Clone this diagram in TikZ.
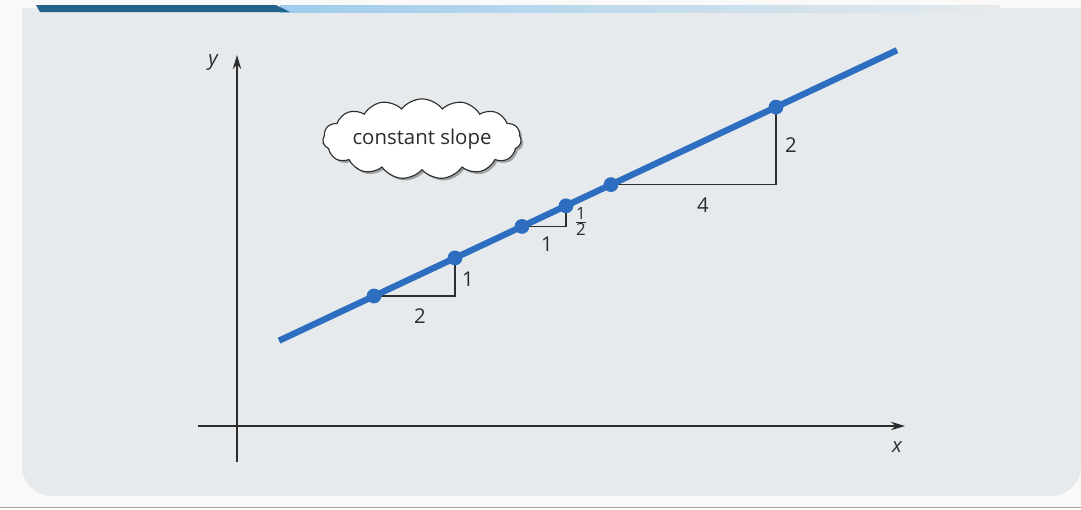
\documentclass[tikz,border=0pt]{standalone}
\usepackage{fontspec}
\setmainfont{Open Sans}
\usetikzlibrary{arrows.meta,shapes.symbols,shadows}
\definecolor{page}{RGB}{249,249,249}
\definecolor{panel}{RGB}{230,234,236}
\definecolor{lineblue}{RGB}{46,110,192}
\definecolor{bardark}{RGB}{36,98,142}
\definecolor{barlight}{RGB}{158,204,236}
\definecolor{ink}{RGB}{45,45,45}
\tikzset{
  axis/.style={draw=ink, line width=0.9pt, -{Stealth[length=10pt,width=6pt]}},
  tri/.style={draw=ink, line width=0.9pt},
  slopeline/.style={draw=lineblue, line width=4.5pt},
  dot/.style={fill=lineblue, circle, inner sep=0pt, minimum size=0.37cm},
  lab/.style={text=ink, font=\fontsize{14.5}{16}\selectfont, inner sep=1pt},
  axlab/.style={text=ink, font=\fontsize{14.5}{16}\selectfont\itshape, inner sep=1pt},
  bubble/.style={cloud, draw=ink, line width=0.8pt, fill=white, cloud puffs=15, cloud puff arc=105, aspect=3.2,
     minimum width=4.75cm, minimum height=1.5cm, inner sep=0pt,
     drop shadow={shadow xshift=1.6pt, shadow yshift=-1.6pt, opacity=0.3, fill=black},
     text=ink, font=\fontsize{14.5}{16}\selectfont}
}
\begin{document}
\begin{tikzpicture}[x=0.025cm,y=-0.025cm]
\useasboundingbox (0,0) rectangle (1081,509);
% page and panel
\fill[page] (0,0) rectangle (1081,509);
\fill[panel] (22,8) -- (1081,8) -- (1081,400) [rounded corners=0.75cm] -- (1081,496) -- (22,496) -- (22,400) [sharp corners] -- cycle;
\draw[gray!70, line width=0.8pt] (0,507.5) -- (1081,507.5);
% top stripe
\shade[left color=barlight, right color=panel] (280,5) rectangle (1000,12);
\fill[bardark] (36,5) -- (276,5) -- (290,12) -- (40,12) -- cycle;
% axes
\coordinate (ybot) at (237,462);
\coordinate (ytop) at (237,55);
\coordinate (xleft) at (198,426);
\coordinate (xright) at (905,426);
\draw[axis] (ybot) -- (ytop);
\draw[axis] (xleft) -- (xright);
\node[axlab] (ylab) at (213,62) {y};
\node[axlab] (xlab) at (897,447) {x};
% points on the line
\coordinate (lstart) at (279,340.7);
\coordinate (lend) at (897,50.2);
\coordinate (p1) at (374,296);
\coordinate (p2) at (455,257.9);
\coordinate (p3) at (522,226.4);
\coordinate (p4) at (566,205.8);
\coordinate (p5) at (611,184.6);
\coordinate (p6) at (776,107.1);
\coordinate (c1) at (455,296);
\coordinate (c2) at (566,226.4);
\coordinate (c3) at (776,184.6);
% triangles
\draw[tri] (p1) -- (c1) -- (p2);
\draw[tri] (p3) -- (c2) -- (p4);
\draw[tri] (p5) -- (c3) -- (p6);
% line and dots
\draw[slopeline] (lstart) -- (lend);
\foreach \p in {p1,p2,p3,p4,p5,p6} \node[dot] (d\p) at (\p) {};
% labels
\node[lab] (l2a) at (420,316) {2};
\node[lab] (l1a) at (468,279) {1};
\node[lab] (l1b) at (547,244) {1};
\node[lab] (lhalf) at (581,221) {$\frac{\hbox{\fontsize{12}{12}\selectfont 1}}{\hbox{\fontsize{12}{12}\selectfont 2}}$};
\node[lab] (l4) at (703,205) {4};
\node[lab] (l2b) at (791,145) {2};
% cloud
\node[bubble] (cloud) at (422,139) {constant slope};
\end{tikzpicture}
\end{document}
